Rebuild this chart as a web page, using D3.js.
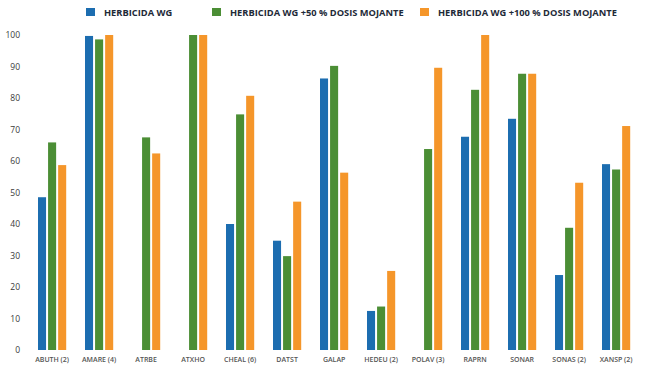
<!DOCTYPE html>
<html><head><meta charset="utf-8">
<script src="https://cdn.jsdelivr.net/npm/d3@7"></script>
<style>body{margin:0;background:#fff;}svg{display:block;}</style>
</head><body>
<svg id="c" width="658" height="370"></svg>
<script>
const categories = ["ABUTH (2)","AMARE (4)","ATRBE","ATXHO","CHEAL (6)","DATST","GALAP","HEDEU (2)","POLAV (3)","RAPRN","SONAR","SONAS (2)","XANSP (2)"];
const seriesNames = ["HERBICIDA WG","HERBICIDA WG +50 % DOSIS MOJANTE","HERBICIDA WG +100 % DOSIS MOJANTE"];
const herbicidaWG =      [48.5, 99.7, null, null, 40, 34.7, 86.2, 12.4, null, 67.7, 73.4, 23.8, 59];
const herbicidaWG50 =    [65.9, 98.6, 67.5, 100, 74.8, 29.8, 90.2, 13.8, 63.8, 82.6, 87.7, 38.8, 57.3];
const herbicidaWG100 =   [58.7, 100, 62.4, 100, 80.7, 47.1, 56.3, 25.1, 89.6, 100, 87.7, 53.1, 71.1];
const yTicks = [0,10,20,30,40,50,60,70,80,90,100];
const colors = ["#1c6db0","#4b8e35","#f5962a"];

const series = [herbicidaWG, herbicidaWG50, herbicidaWG100];
const svg = d3.select("#c");

const x = d3.scaleBand().domain(categories).range([23.9, 644.3]).paddingInner(0.4).paddingOuter(0.3);
const xi = d3.scaleBand().domain([0,1,2]).range([0, x.bandwidth()]).paddingInner(0.2);
const y = d3.scaleLinear().domain([0,100]).range([350, 35]);

// y axis labels
const yAxis = d3.axisLeft(y).tickValues(yTicks).tickSize(0).tickPadding(0);
const gy = svg.append("g").attr("transform","translate(20,0)").call(yAxis);
gy.select(".domain").remove();
gy.selectAll("text").attr("font-family","'Open Sans', sans-serif").attr("font-size","8.5px").attr("fill","#3a3a3a");

// x axis labels
const xAxis = d3.axisBottom(x).tickSize(0).tickPadding(0);
const gx = svg.append("g").attr("transform","translate(0,357)").call(xAxis);
gx.select(".domain").remove();
gx.selectAll("text").attr("font-family","'Open Sans', sans-serif").attr("font-size","7px").attr("font-weight","600").attr("fill","#555");

// bars
const groups = svg.append("g").selectAll("g").data(categories).join("g")
  .attr("transform", d => `translate(${x(d)},0)`);
groups.selectAll("rect").data((d,i) => series.map((s,k) => ({k, v: s[i]})).filter(e => e.v != null))
  .join("rect")
  .attr("x", e => xi(e.k))
  .attr("width", xi.bandwidth())
  .attr("y", e => y(e.v))
  .attr("height", e => y(0) - y(e.v))
  .attr("fill", e => colors[e.k]);

// legend
const legendX = [86, 212, 420];
const lg = svg.append("g").selectAll("g").data(seriesNames).join("g")
  .attr("transform", (d,i) => `translate(${legendX[i]},8)`);
lg.append("rect").attr("width",9).attr("height",8).attr("fill",(d,i)=>colors[i]);
lg.append("text").attr("x",18).attr("y",8)
  .attr("font-family","'Open Sans', sans-serif").attr("font-size","9.3px").attr("font-weight","700")
  .attr("fill","#1e2a38").text(d=>d);
</script>
</body></html>
